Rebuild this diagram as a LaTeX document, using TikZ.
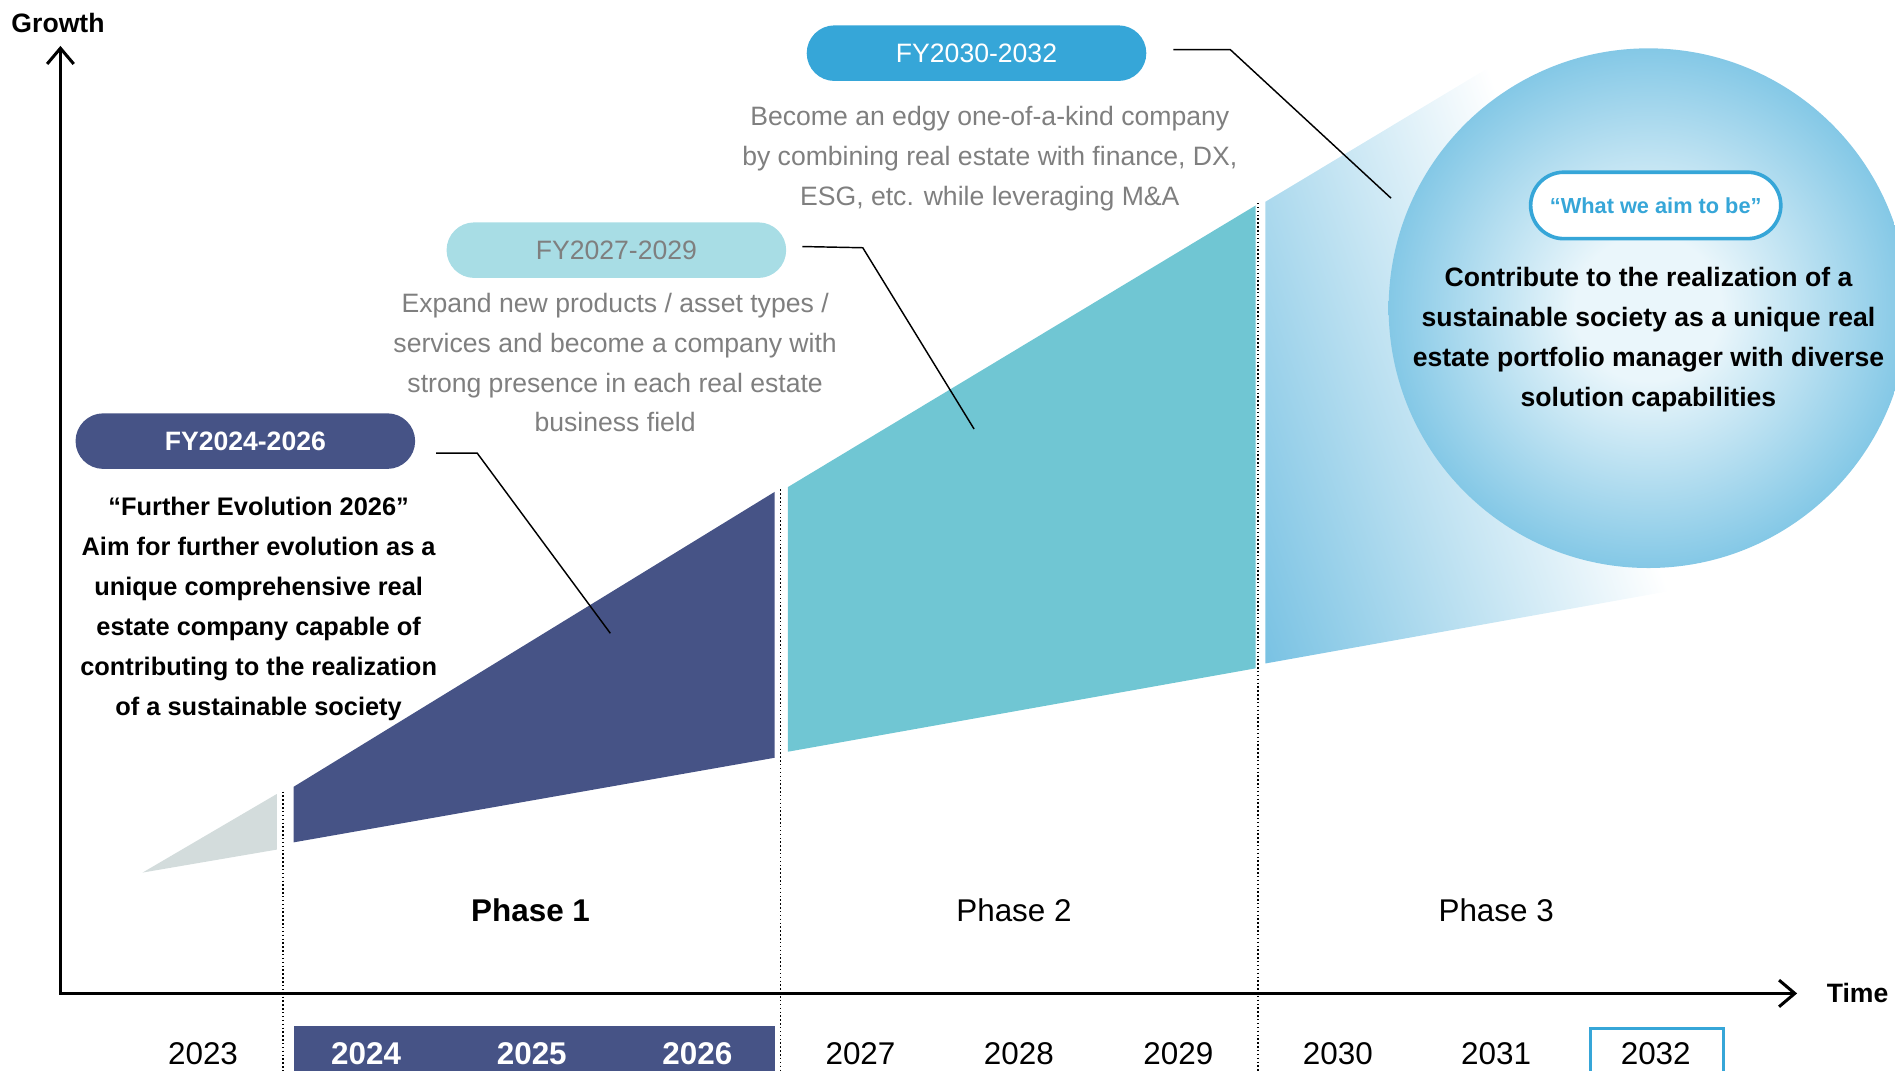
\documentclass[tikz,border=0pt]{standalone}
\usepackage{fontspec}
\setmainfont{Liberation Sans}
\usetikzlibrary{arrows.meta}

\definecolor{navy}{HTML}{465386}
\definecolor{lagoon}{HTML}{70C6D3}
\definecolor{pale}{HTML}{A8DDE5}
\definecolor{sky}{HTML}{36A6D8}
\definecolor{mist}{HTML}{D3DCDC}
\definecolor{note}{HTML}{7F7F7F}
\definecolor{wedge}{HTML}{79C2E3}
\definecolor{glowin}{HTML}{EAF6FB}
\definecolor{glowout}{HTML}{84C8E6}

\pgfdeclareradialshading{aimglow}{\pgfpoint{0bp}{0bp}}{color(0bp)=(glowin); color(7bp)=(glowin); color(25bp)=(glowout); color(50bp)=(glowout)}

\begin{document}
\begin{tikzpicture}[x=0.5pt,y=-0.5pt,
  body/.style={align=center,font=\fontsize{11}{16.5}\selectfont},
  pill/.style={rounded corners=11.5pt,minimum width=140.5pt,minimum height=23pt,inner sep=0pt},
  year/.style={font=\fontsize{13}{15}\selectfont},
  leader/.style={line width=0.6pt},
  split/.style={densely dotted,line width=0.6pt,black},
  axis/.style={line width=1.25pt,{Straight Barb[length=6.5pt,width=11pt]}-{Straight Barb[length=6.5pt,width=11pt]}}]
\useasboundingbox (0,0) rectangle (1568,886);
\clip (0,0) rectangle (1568,886);

\fill[mist] (118,722) -- (229,657) -- (229,703) -- cycle;
\fill[navy] (243,651) -- (641,407) -- (641,627) -- (243,697) -- cycle;
\fill[lagoon] (652,403) -- (1039,170) -- (1039,553) -- (652,622) -- cycle;
\begin{scope}
  \clip (1047,167) -- (1340,-9) -- (1460,475) -- (1047,549) -- cycle;
  \begin{scope}[transform canvas={rotate around={19:(1047,549)}}]
    \shade[left color=wedge,right color=white] (1047,-300) rectangle (1382,900);
  \end{scope}
\end{scope}
\shade[shading=aimglow] (1364,255) circle [radius=215];

\draw[split] (234,655) -- (234,886);
\draw[split] (646,405) -- (646,886);
\draw[split] (1041,168) -- (1041,886);

\node[font=\bfseries\fontsize{11}{13}\selectfont] (growth) at (48,19) {Growth};
\node[font=\bfseries\fontsize{11}{13}\selectfont] (time) at (1537,822) {Time};
\draw[axis] (50,38) |- (1487,822);

\node[font=\bfseries\fontsize{13}{15}\selectfont] (phase1) at (439,753) {Phase 1};
\node[font=\fontsize{13}{15}\selectfont] (phase2) at (839,753) {Phase 2};
\node[font=\fontsize{13}{15}\selectfont] (phase3) at (1238,753) {Phase 3};

\fill[navy] (243,849) rectangle (641,892);
\draw[sky,line width=1.25pt] (1316,851) rectangle (1426,894);
\foreach \yr/\x in {2023/168,2027/712,2028/843,2029/975,2030/1107,2031/1238,2032/1370}
  \node[year] (y\yr) at (\x,872) {\yr};
\foreach \yr/\x in {2024/303,2025/440,2026/577}
  \node[year,text=white,font=\bfseries\fontsize{13}{15}\selectfont] (y\yr) at (\x,872) {\yr};

\node[pill,fill=navy,text=white,font=\bfseries\fontsize{11}{13}\selectfont] (fy1) at (203,365) {FY2024-2026};
\node[pill,fill=pale,text=note,font=\fontsize{11}{13}\selectfont] (fy2) at (510,207) {FY2027-2029};
\node[pill,fill=sky,text=white,font=\fontsize{11}{13}\selectfont] (fy3) at (808,44) {FY2030-2032};

\node[body,font=\bfseries\fontsize{10.5}{16.5}\selectfont] (aim1) at (214,504) {“Further Evolution 2026”\\Aim for further evolution as a\\unique comprehensive real\\estate company capable of\\contributing to the realization\\of a sustainable society};
\node[body,text=note] (aim2) at (509,300) {Expand new products / asset types /\\services and become a company with\\strong presence in each real estate\\business field};
\node[body,text=note] (aim3) at (819,131) {Become an edgy one-of-a-kind company\\by combining real estate with finance, DX,\\ESG, etc. while leveraging M\&A};

\node[draw=sky,line width=1.5pt,fill=white,rounded corners=13.75pt,minimum width=103.5pt,minimum height=27.5pt,inner sep=0pt,text=sky,font=\bfseries\fontsize{9}{11}\selectfont] (goal) at (1370,170) {“What we aim to be”};
\node[body,font=\bfseries\fontsize{11}{16.5}\selectfont] (vision) at (1364,281) {Contribute to the realization of a\\sustainable society as a unique real\\estate portfolio manager with diverse\\solution capabilities};

\coordinate (tip1) at (505,524);
\coordinate (tip2) at (806,355);
\coordinate (tip3) at (1151,164);
\draw[leader] (fy1.east) ++(17,10) -- ++(34,0) -- (tip1);
\draw[leader] (fy2.east) ++(13,-3) -- ++(50,1) -- (tip2);
\draw[leader] (fy3.east) ++(22,-3) -- ++(47,0) -- (tip3);
\end{tikzpicture}
\end{document}
